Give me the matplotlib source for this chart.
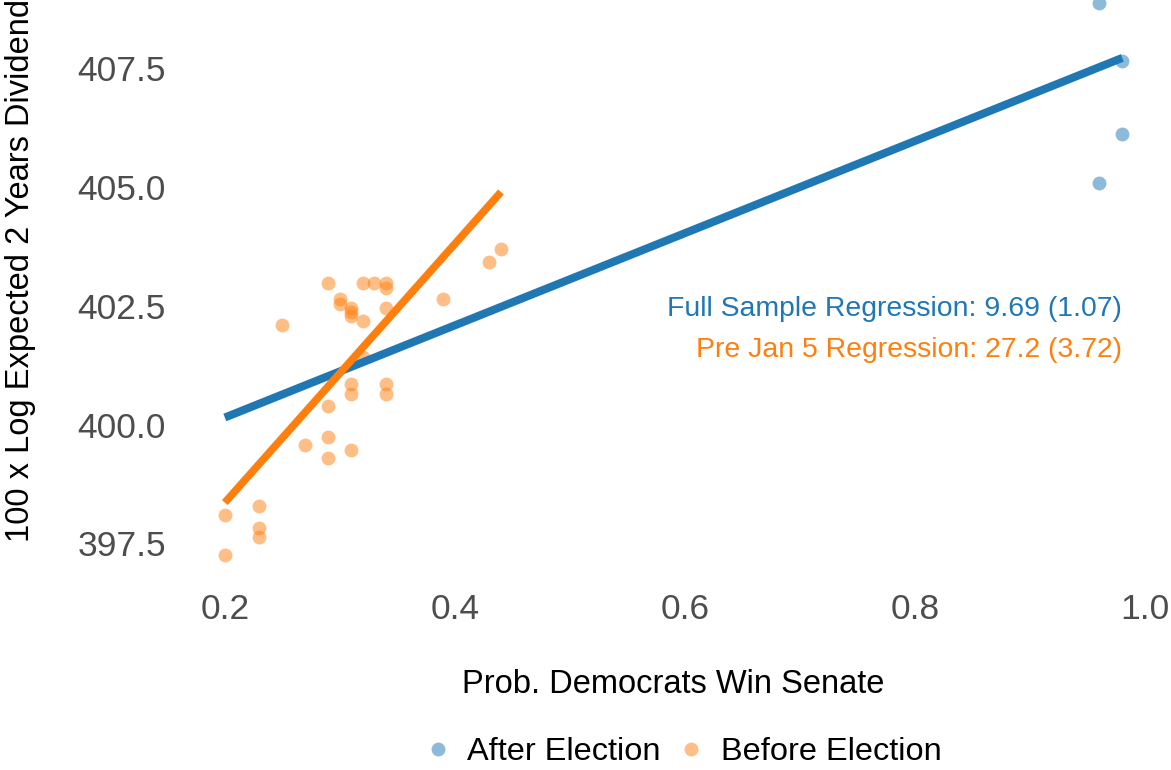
import numpy as np
import matplotlib.pyplot as plt
from matplotlib.lines import Line2D

plt.rcParams['font.family'] = ['Liberation Sans', 'DejaVu Sans']

# probability of a Democratic senate vs 100 x log expected 2-year dividend
before_x = [0.29, 0.32, 0.33, 0.34, 0.34, 0.30, 0.30, 0.31, 0.31, 0.31,
            0.32, 0.34, 0.25, 0.39, 0.43, 0.44, 0.32, 0.31, 0.31, 0.34,
            0.34, 0.29, 0.29, 0.27, 0.31, 0.29, 0.20, 0.23, 0.23, 0.23,
            0.20]
before_y = [402.98, 402.98, 402.98, 402.98, 402.87, 402.63, 402.54, 402.45,
            402.36, 402.28, 402.18, 402.45, 402.09, 402.63, 403.42, 403.69,
            401.43, 400.85, 400.65, 400.85, 400.65, 400.38, 399.74, 399.57,
            399.47, 399.29, 398.09, 398.28, 397.82, 397.63, 397.25]

after_x = [0.96, 0.98, 0.98, 0.96]
after_y = [408.87, 407.65, 406.11, 405.08]

# regression fits: slope (se), intercept, x range
full_slope, full_se, full_icpt = 9.69, 1.07, 398.21
pre_slope, pre_se, pre_icpt = 27.2, 3.72, 392.92
full_range = [0.20, 0.98]
pre_range = [0.20, 0.44]

blue = '#1F77B4'
orange = '#FF7F0E'

fig = plt.figure(figsize=(11.71, 7.70), dpi=100)
# panel runs a little past the top edge
ax = fig.add_axes([0.1537, 0.2429, 0.843, 0.8026])

ax.scatter(after_x, after_y, s=100, color=blue, alpha=0.5, linewidths=0,
           zorder=2)
ax.scatter(before_x, before_y, s=100, color=orange, alpha=0.5, linewidths=0,
           zorder=2)

fx = np.array(full_range)
ax.plot(fx, full_icpt + full_slope * fx, color=blue, lw=5.8,
        solid_capstyle='butt', zorder=3)
px = np.array(pre_range)
ax.plot(px, pre_icpt + pre_slope * px, color=orange, lw=5.5,
        solid_capstyle='butt', zorder=3)

ax.text(0.98, 402.28, f'Full Sample Regression: {full_slope} ({full_se})',
        color=blue, fontsize=20.4, ha='right', va='baseline')
ax.text(0.98, 401.43, f'Pre Jan 5 Regression: {pre_slope} ({pre_se})',
        color=orange, fontsize=20.4, ha='right', va='baseline')

ax.set_xlim(0.161, 1.019)
ax.set_ylim(396.67, 409.66)
ax.set_xticks([0.2, 0.4, 0.6, 0.8, 1.0])
ax.set_xticklabels(['0.2', '0.4', '0.6', '0.8', '1.0'])
ax.set_yticks([397.5, 400.0, 402.5, 405.0, 407.5])
ax.set_yticklabels(['397.5', '400.0', '402.5', '405.0', '407.5'])
ax.tick_params(axis='both', length=0, labelsize=25.5, labelcolor='#4D4D4D')
ax.tick_params(axis='y', pad=10)
ax.tick_params(axis='x', pad=7)
for s in ax.spines.values():
    s.set_visible(False)

ax.set_xlabel('Prob. Democrats Win Senate', fontsize=23.5, va='center')
ax.xaxis.set_label_coords(0.5, -0.164)
ax.set_ylabel('100 x Log Expected 2 Years Dividend', fontsize=23.5,
              va='center')
ax.yaxis.set_label_coords(-0.162, 0.505)

handles = [Line2D([], [], marker='o', ls='', color=blue, alpha=0.5,
                  markersize=10, markeredgewidth=0),
           Line2D([], [], marker='o', ls='', color=orange, alpha=0.5,
                  markersize=10, markeredgewidth=0)]
fig.legend(handles, ['After Election', 'Before Election'], loc='center',
           bbox_to_anchor=(0.582, 0.023), ncol=2, frameon=False,
           fontsize=23.4, handletextpad=0.4, columnspacing=0.45,
           handlelength=1.0)

fig.savefig('out.png', dpi=100)
